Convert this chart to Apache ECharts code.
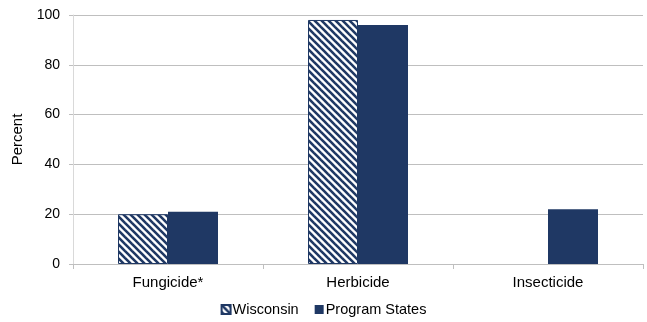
<!DOCTYPE html>
<html>
<head>
<meta charset="utf-8">
<script src="https://cdn.jsdelivr.net/npm/echarts@6/dist/echarts.min.js"></script>
<style>
html,body{margin:0;padding:0;background:#fff;}
#chart{width:647px;height:322px;}
</style>
</head>
<body>
<div id="chart"></div>
<script>
const categories = ['Fungicide*', 'Herbicide', 'Insecticide'];
const seriesNames = ['Wisconsin', 'Program States'];
const wisconsin = [20, 98, null];
const programStates = [21, 96, 22];
const yTicks = [0, 20, 40, 60, 80, 100];

const NAVY = '#1f3864';

function makeHatch() {
  const s = 7;
  const c = document.createElement('canvas');
  c.width = s; c.height = s;
  const g = c.getContext('2d');
  g.fillStyle = '#ffffff';
  g.fillRect(0, 0, s, s);
  g.strokeStyle = NAVY;
  g.lineWidth = 2.6;
  for (let k = -1; k <= 1; k++) {
    g.beginPath();
    g.moveTo(-2, -2 + k * s);
    g.lineTo(s + 2, s + 2 + k * s);
    g.stroke();
  }
  return c;
}

const chart = echarts.init(document.getElementById('chart'), null, {renderer: 'canvas'});
const font = 'Liberation Sans, Arial, sans-serif';

chart.setOption({
  animation: false,
  grid: {left: 73, right: 4, top: 15, bottom: 58, containLabel: false},
  legend: {
    data: seriesNames,
    bottom: 0,
    left: 'center',
    icon: 'rect',
    itemWidth: 9,
    itemHeight: 9,
    itemGap: 16,
    textStyle: {fontFamily: font, fontSize: 14.5, color: '#000', padding: [0, 0, 0, -3]}
  },
  xAxis: {
    type: 'category',
    data: categories,
    axisLine: {lineStyle: {color: '#bfbfbf', width: 1}},
    axisTick: {show: true, alignWithLabel: false, length: 5, lineStyle: {color: '#bfbfbf'}},
    axisLabel: {fontFamily: font, fontSize: 15, color: '#000', margin: 11}
  },
  yAxis: {
    type: 'value',
    min: yTicks[0],
    max: yTicks[yTicks.length - 1],
    interval: yTicks[1] - yTicks[0],
    name: 'Percent',
    nameLocation: 'middle',
    nameGap: 45,
    nameTextStyle: {fontFamily: font, fontSize: 15, color: '#000'},
    axisLine: {show: true, lineStyle: {color: '#d9d9d9'}},
    axisTick: {show: true, length: 4, lineStyle: {color: '#bfbfbf'}},
    axisLabel: {fontFamily: font, fontSize: 14, color: '#000', margin: 13},
    splitLine: {lineStyle: {color: '#bfbfbf', width: 1}}
  },
  series: [
    {
      name: seriesNames[0],
      type: 'bar',
      data: wisconsin,
      barWidth: 50,
      barGap: '0%',
      itemStyle: {
        color: {image: makeHatch(), repeat: 'repeat'},
        borderColor: NAVY,
        borderWidth: 1
      }
    },
    {
      name: seriesNames[1],
      type: 'bar',
      data: programStates,
      barWidth: 50,
      barGap: '0%',
      itemStyle: {color: NAVY, borderColor: NAVY, borderWidth: 0}
    }
  ]
});
</script>
</body>
</html>
